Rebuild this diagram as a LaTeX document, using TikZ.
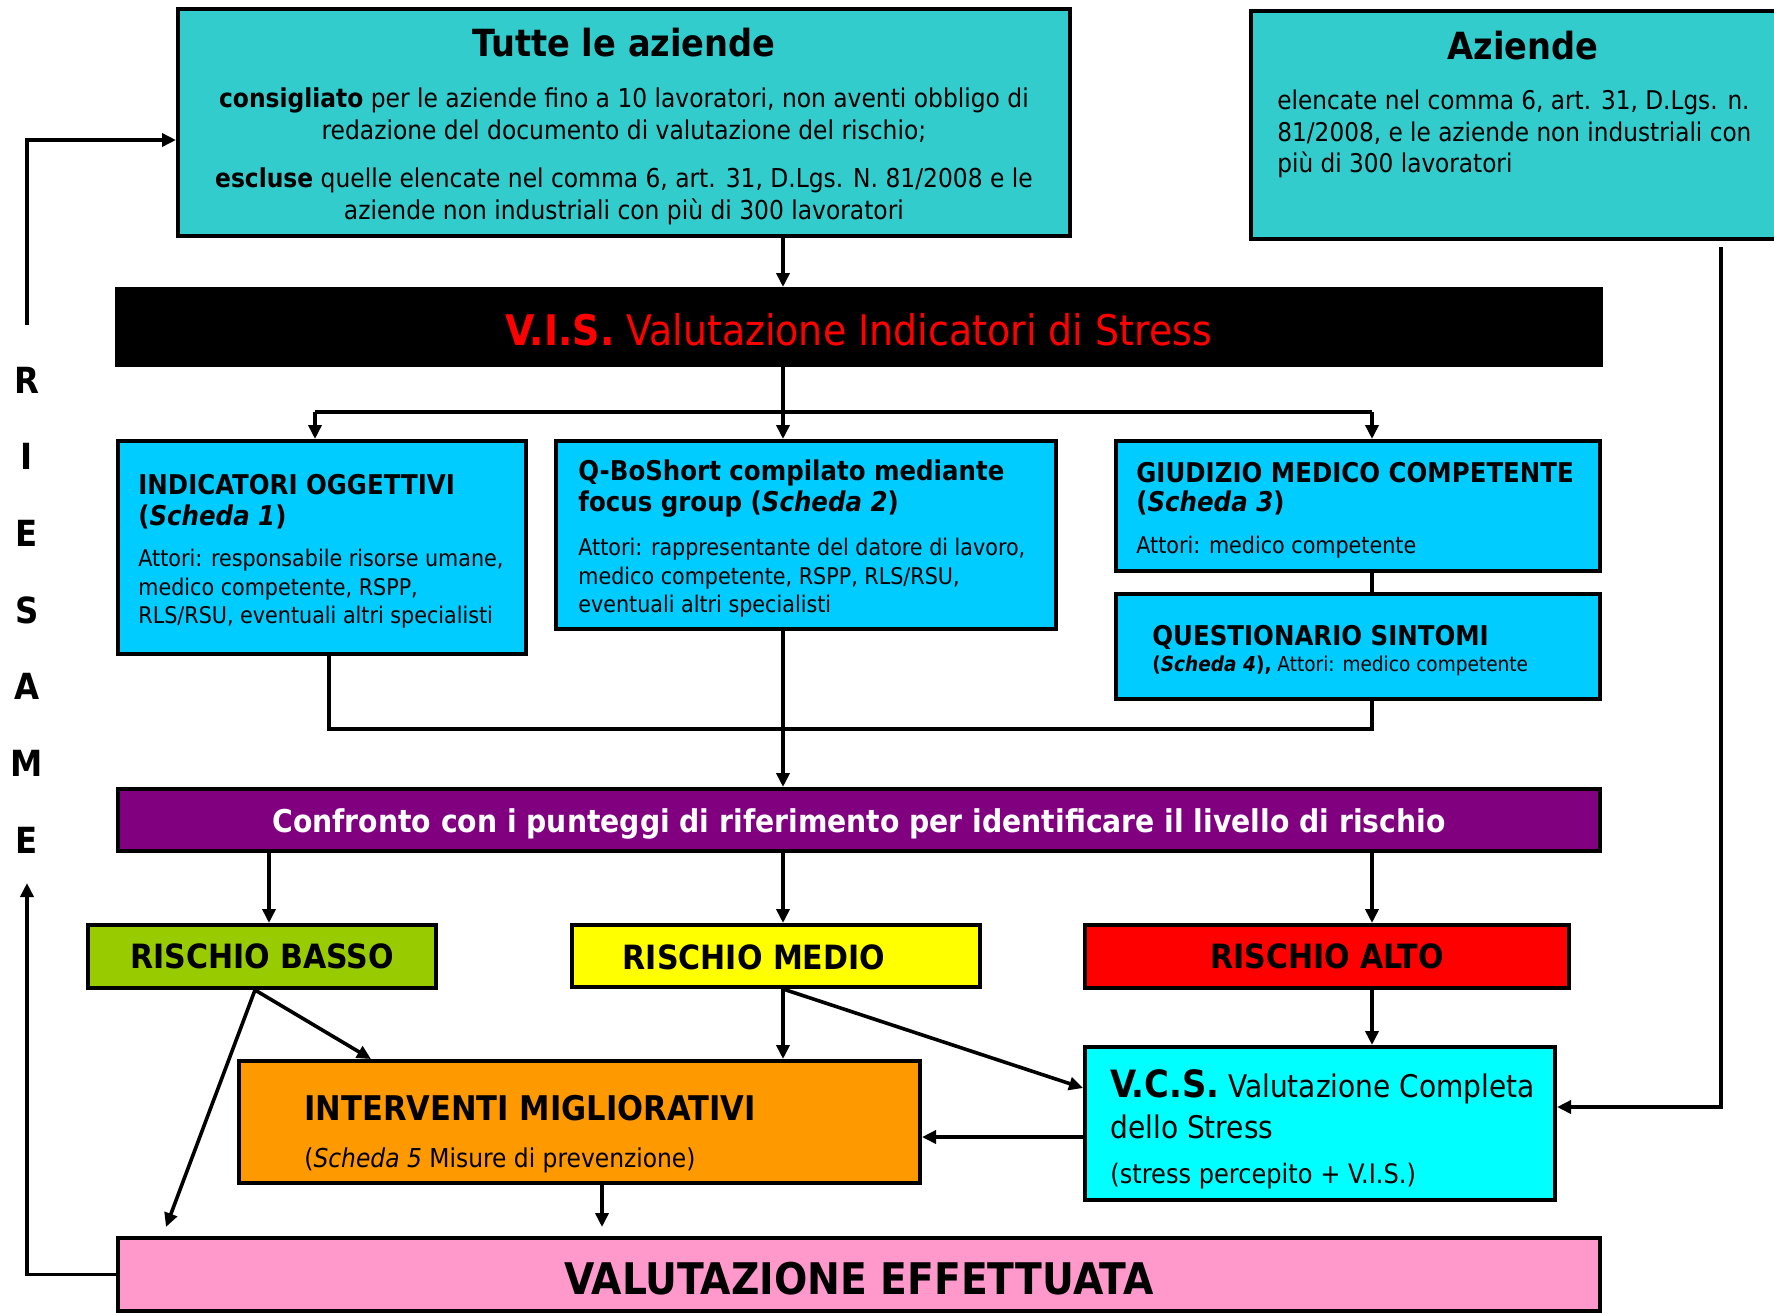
\documentclass[tikz,border=0pt]{standalone}
\usepackage{fontspec}
\setmainfont{DejaVu Sans Condensed}
\usetikzlibrary{arrows.meta}

\definecolor{aziendecol}{HTML}{33CCCC}
\definecolor{schedacol}{HTML}{00CCFF}
\definecolor{confrontocol}{HTML}{800080}
\definecolor{bassocol}{HTML}{99CC00}
\definecolor{mediocol}{HTML}{FFFF00}
\definecolor{altocol}{HTML}{FF0000}
\definecolor{intervcol}{HTML}{FF9900}
\definecolor{vcscol}{HTML}{00FFFF}
\definecolor{effettcol}{HTML}{FF99CC}

\tikzset{
  box/.style={draw=black, line width=2pt, inner sep=0pt},
  flow/.style={line width=1.8pt, -{Triangle[length=7pt,width=6.5pt]}},
  wire/.style={line width=1.8pt},
  txt/.style={inner sep=0pt, align=left, anchor=west},
  toptitle/.style={font=\fontsize{18.7}{22}\selectfont\bfseries},
  toptext/.style={font=\fontsize{13}{16}\selectfont},
  schedatitle/.style={font=\fontsize{13.6}{15.5}\selectfont\bfseries, yshift=-1pt},
  schedatext/.style={font=\fontsize{11.5}{14.25}\selectfont, yshift=-1pt},
  rischio/.style={font=\fontsize{16.7}{19}\selectfont\bfseries},
}

\begin{document}
\begin{tikzpicture}[x=0.5pt,y=-0.5pt]
\useasboundingbox (0,0) rectangle (1774,1314);

% boxes
\node[box,fill=aziendecol,minimum width=446pt,minimum height=113.5pt] (tutte) at (624,122.5) {};
\node[box,fill=aziendecol,minimum width=267pt,minimum height=114pt] (aziende) at (1518,125) {};
\node[box,fill=black,minimum width=742pt,minimum height=38pt,font=\fontsize{21.1}{24}\selectfont,text=red,
  text height=18pt,text depth=0pt] (vis) at (859,327)
  {\textbf{V.I.S.} Valutazione Indicatori di Stress};
\node[box,fill=schedacol,minimum width=204pt,minimum height=106.5pt] (indic) at (322,547.5) {};
\node[box,fill=schedacol,minimum width=250pt,minimum height=94pt] (qbo) at (806,535) {};
\node[box,fill=schedacol,minimum width=242pt,minimum height=65pt] (giud) at (1358,506) {};
\node[box,fill=schedacol,minimum width=242pt,minimum height=52.5pt] (quest) at (1358,646.5) {};
\node[box,fill=confrontocol,minimum width=741pt,minimum height=31pt,text=white,font=\fontsize{15.7}{18}\selectfont\bfseries,
  text height=16.4pt,text depth=3.8pt] (confr) at (859,820)
  {Confronto con i punteggi di riferimento per identificare il livello di rischio};
\node[box,fill=bassocol,minimum width=174pt,minimum height=31.5pt,rischio] (basso) at (262,956.5) {RISCHIO BASSO};
\node[box,fill=mediocol,minimum width=204pt,minimum height=31pt] (medio) at (776,956) {};
\node[box,fill=altocol,minimum width=242pt,minimum height=31.5pt,rischio] (alto) at (1327,956.5) {RISCHIO ALTO};
\node[box,fill=intervcol,minimum width=340.5pt,minimum height=61pt] (interv) at (579.5,1122) {};
\node[box,fill=vcscol,minimum width=235pt,minimum height=76.5pt] (vcs) at (1320,1123.5) {};
\node[box,fill=effettcol,minimum width=741pt,minimum height=36.5pt,font=\fontsize{21.8}{25}\selectfont\bfseries,
  text height=20.4pt,text depth=0pt] (effett) at (859,1274.5)
  {VALUTAZIONE EFFETTUATA};

% texts
\node[toptitle] (tutteT) at (624,43) {Tutte le aziende};
\node[toptext,inner sep=0pt,align=center] (tutteA) at (624,115)
  {\textbf{consigliato} per le aziende fino a 10 lavoratori, non aventi obbligo di\\
   redazione del documento di valutazione del rischio;};
\node[toptext,inner sep=0pt,align=center] (tutteB) at (624,196)
  {\textbf{escluse} quelle elencate nel comma 6, art. 31, D.Lgs. N. 81/2008 e le\\
   aziende non industriali con più di 300 lavoratori};
\node[toptitle] (aziendeT) at (1523,46) {Aziende};
\node[txt,font=\fontsize{12.9}{15.75}\selectfont] (aziendeA) at (1277,134)
  {elencate nel comma 6, art. 31, D.Lgs. n.\\
   81/2008, e le aziende non industriali con\\
   più di 300 lavoratori};
\node[txt,schedatitle] (indicT) at (138,500) {INDICATORI OGGETTIVI\\(\textit{Scheda 1})};
\node[txt,schedatext] (indicA) at (138,587)
  {Attori: responsabile risorse umane,\\medico competente, RSPP,\\RLS/RSU, eventuali altri specialisti};
\node[txt,schedatitle] (qboT) at (578,486.5) {Q-BoShort compilato mediante\\focus group (\textit{Scheda 2})};
\node[txt,schedatext] (qboA) at (578,576)
  {Attori: rappresentante del datore di lavoro,\\medico competente, RSPP, RLS/RSU,\\eventuali altri specialisti};
\node[txt,schedatitle,font=\fontsize{13.6}{14.5}\selectfont\bfseries] (giudT) at (1136,486.5) {GIUDIZIO MEDICO COMPETENTE\\(\textit{Scheda 3})};
\node[txt,schedatext] (giudA) at (1136,545) {Attori: medico competente};
\node[txt,schedatitle] (questT) at (1152,635) {QUESTIONARIO SINTOMI};
\node[txt,font=\fontsize{10.3}{12}\selectfont,yshift=-1pt] (questA) at (1152,664) {\textbf{(\textit{Scheda 4}),} Attori: medico competente};
\node[rischio] (medioT) at (754,957) {RISCHIO MEDIO};
\node[txt,font=\fontsize{17}{19}\selectfont\bfseries] (intervT) at (304,1108) {INTERVENTI MIGLIORATIVI};
\node[txt,font=\fontsize{13}{16}\selectfont] (intervA) at (304,1160) {(\textit{Scheda 5} Misure di prevenzione)};
\node[txt,font=\fontsize{15.6}{20.5}\selectfont] (vcsT) at (1110,1104)
  {{\fontsize{18.8}{20}\selectfont\bfseries V.C.S.} Valutazione Completa\\dello Stress};
\node[txt,font=\fontsize{13.4}{15}\selectfont] (vcsA) at (1110,1176) {(stress percepito + V.I.S.)};

% RIESAME
\foreach \ch [count=\i] in {R,I,E,S,A,M,E}
  \node[font=\fontsize{18}{20}\selectfont\bfseries] (riesame\i) at (27,{380+76.7*(\i-1)}) {\ch};

% helper coordinates
\coordinate (axis) at (783,0);
\coordinate (brL) at (315,412);
\coordinate (brR) at (1372,412);
\coordinate (colL) at (329,729);
\coordinate (colR) at (1372,729);
\coordinate (bx) at (269,0);
\coordinate (bsx) at (255,0);
\coordinate (ivx) at (371,0);
\coordinate (vcsin) at (0,1088);
\coordinate (ivy) at (0,1137);
\coordinate (ix) at (602,0);
\coordinate (lowend) at (166,1227);
\coordinate (effend) at (602,1227);
\coordinate (azs) at (1721,247);
\coordinate (azc) at (1721,1107);
\coordinate (lx) at (27,0);
\coordinate (rtop) at (27,883);
\coordinate (rlow) at (27,325);
\coordinate (rturn) at (27,140);

% connectors
\draw[flow] (tutte.south -| axis) -- (vis.north -| axis);
\draw[flow] (vis.south -| axis) -- (qbo.north -| axis);
\draw[wire] (brL) -- (brR);
\draw[flow] (brL) -- (indic.north -| brL);
\draw[flow] (brR) -- (giud.north -| brR);
\draw[wire] (giud.south -| colR) -- (quest.north -| colR);
\draw[wire] (indic.south -| colL) -- (colL) -- (colR) -- (quest.south -| colR);
\draw[flow] (qbo.south -| axis) -- (confr.north -| axis);
\draw[flow] (confr.south -| bx) -- (basso.north -| bx);
\draw[flow] (confr.south -| axis) -- (medio.north -| axis);
\draw[flow] (confr.south -| brR) -- (alto.north -| brR);
\draw[flow] (basso.south -| bsx) -- (interv.north -| ivx);
\draw[flow] (basso.south -| bsx) -- (lowend);
\draw[flow] (medio.south -| axis) -- (interv.north -| axis);
\draw[flow] (medio.south -| axis) -- (vcs.west |- vcsin);
\draw[flow] (alto.south -| brR) -- (vcs.north -| brR);
\draw[flow] (vcs.west |- ivy) -- (interv.east |- ivy);
\draw[flow] (interv.south -| ix) -- (effend);
\draw[flow] (azs) -- (azc) -- (vcs.east |- azc);
\draw[flow] (effett.west) -- (effett.west -| lx) -- (rtop);
\draw[flow] (rlow) -- (rturn) -- (tutte.west |- rturn);
\end{tikzpicture}
\end{document}
